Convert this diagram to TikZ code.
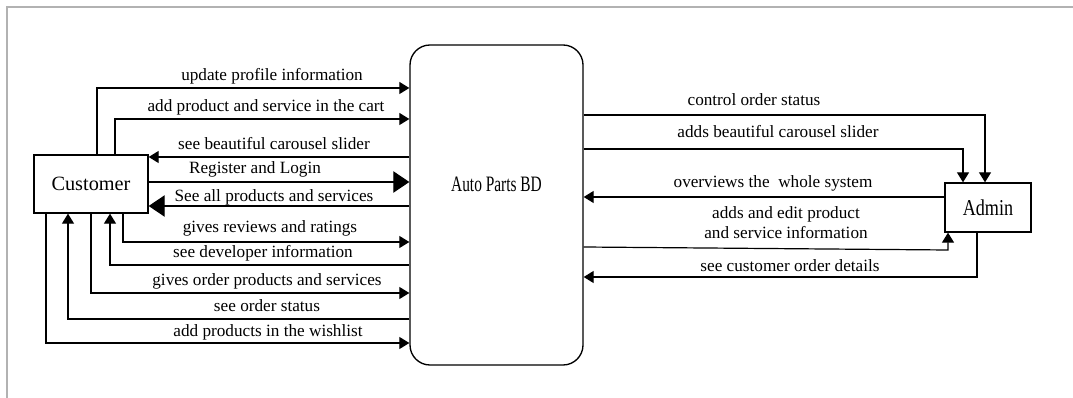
\documentclass[tikz,border=0pt]{standalone}
\usepackage{fontspec}
\setmainfont{Liberation Serif}
\usetikzlibrary{arrows.meta}
\begin{document}
\begin{tikzpicture}[x=0.75pt,y=-0.75pt,
  box/.style={draw, line width=1pt, inner sep=0pt},
  lbl/.style={inner sep=0pt, font=\fontsize{12.9}{15}\selectfont},
  conn/.style={line width=0.9pt, -{Triangle[length=7.5pt,width=9pt]}},
  bigconn/.style={line width=0.9pt, -{Triangle[length=12pt,width=16pt]}}]
\useasboundingbox (0,0) rectangle (1073,398);
\draw[gray!60, line width=1.5pt] (7,398) -- (7,7) -- (1073,7);
% boxes
\node[box, minimum width=85.5pt, minimum height=43.5pt] (cust) at (91,184)
  {\fontsize{15.2}{18}\selectfont Customer};
\node[box, rounded corners=15pt, minimum width=129.75pt, minimum height=240pt] (auto) at (496.5,205) {};
\node[inner sep=0pt] (autot) at (496.5,184) {\scalebox{0.7}[1]{\fontsize{16.5}{19}\selectfont Auto Parts BD}};
\node[box, minimum width=64.5pt, minimum height=36.75pt] (admin) at (988,207.5)
  {\scalebox{0.8}[1]{\fontsize{17}{20}\selectfont Admin}};
% customer connectors
\draw[conn] (cust.north -| 97,0) |- (auto.west |- 0,88);
\draw[conn] (cust.north -| 115,0) |- (auto.west |- 0,119);
\draw[conn] (auto.west |- 0,157) -- (cust.east |- 0,157);
\draw[bigconn] (cust.east |- 0,182) -- (auto.west |- 0,182);
\draw[bigconn] (auto.west |- 0,206) -- (cust.east |- 0,206);
\draw[conn] (cust.south -| 123,0) |- (auto.west |- 0,242);
\draw[conn] (auto.west |- 0,265) -| (cust.south -| 110,0);
\draw[conn] (cust.south -| 91,0) |- (auto.west |- 0,293);
\draw[conn] (auto.west |- 0,319) -| (cust.south -| 68,0);
\draw[conn] (cust.south -| 46,0) |- (auto.west |- 0,343);
% customer labels
\node[lbl] (l1) at (272,76) {update profile information};
\node[lbl] (l2) at (266,107) {add product and service in the cart};
\node[lbl] (l3) at (274,144) {see beautiful carousel slider};
\node[lbl] (l4) at (255,169) {Register and Login};
\node[lbl] (l5) at (274,197) {See all products and services};
\node[lbl] (l6) at (270,228) {gives reviews and ratings};
\node[lbl] (l7) at (263,253) {see developer information};
\node[lbl] (l8) at (267,281) {gives order products and services};
\node[lbl] (l9) at (267,306) {see order status};
\node[lbl] (l10) at (268,332) {add products in the wishlist};
% admin connectors
\draw[conn] (auto.east |- 0,115) -| (admin.north -| 985,0);
\draw[conn] (auto.east |- 0,149) -| (admin.north -| 963,0);
\draw[conn] (admin.west |- 0,197) -- (auto.east |- 0,197);
\coordinate (bend) at (948,250);
\draw[conn] (auto.east |- 0,247) -- (bend) -- (admin.south -| bend);
\draw[conn] (admin.south -| 977,0) |- (auto.east |- 0,277);
% admin labels
\node[lbl] (r1) at (754,100) {control order status};
\node[lbl] (r2) at (778,132) {adds beautiful carousel slider};
\node[lbl] (r3) at (773,183) {overviews the\ \ whole system};
\node[lbl, align=center] (r4) at (786,223) {adds and edit product\\and service information};
\node[lbl] (r5) at (790,266) {see customer order details};
\end{tikzpicture}
\end{document}
